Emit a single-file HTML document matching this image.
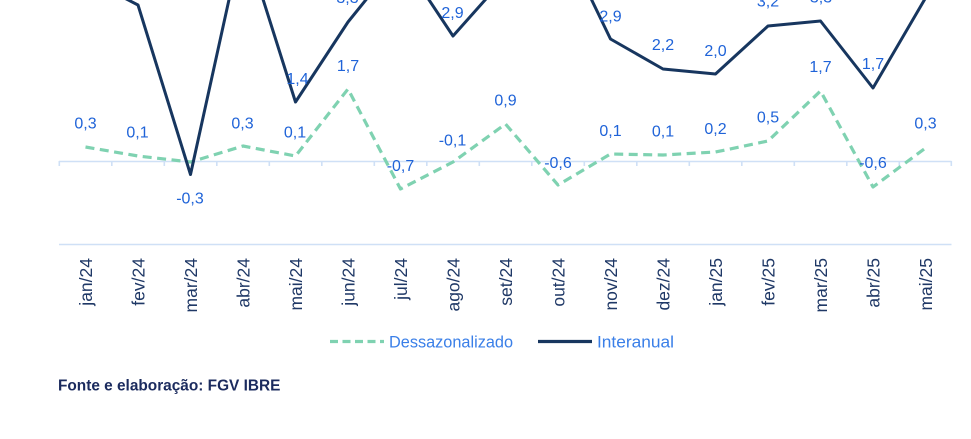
<!DOCTYPE html>
<html>
<head>
<meta charset="utf-8">
<style>
  html,body{margin:0;padding:0;background:#ffffff;}
  body{width:971px;height:439px;overflow:hidden;}
  svg{display:block;}
  text{font-family:"Liberation Sans",sans-serif;}
</style>
</head>
<body>
<svg width="971" height="439" viewBox="0 0 971 439" xmlns="http://www.w3.org/2000/svg">
  <rect x="0" y="0" width="971" height="439" fill="#ffffff"/>

  <!-- axis lines -->
  <g stroke="#cfe0f6" stroke-width="1.6" fill="none">
    <line x1="59" y1="161.5" x2="951.5" y2="161.5"/>
    <line x1="59" y1="244.5" x2="951.5" y2="244.5"/>
    <line x1="59.3" y1="161" x2="59.3" y2="166"/>
    <line x1="111.8" y1="161" x2="111.8" y2="166"/>
    <line x1="164.3" y1="161" x2="164.3" y2="166"/>
    <line x1="216.8" y1="161" x2="216.8" y2="166"/>
    <line x1="269.3" y1="161" x2="269.3" y2="166"/>
    <line x1="321.8" y1="161" x2="321.8" y2="166"/>
    <line x1="374.3" y1="161" x2="374.3" y2="166"/>
    <line x1="426.8" y1="161" x2="426.8" y2="166"/>
    <line x1="479.3" y1="161" x2="479.3" y2="166"/>
    <line x1="531.8" y1="161" x2="531.8" y2="166"/>
    <line x1="584.3" y1="161" x2="584.3" y2="166"/>
    <line x1="636.8" y1="161" x2="636.8" y2="166"/>
    <line x1="689.3" y1="161" x2="689.3" y2="166"/>
    <line x1="741.8" y1="161" x2="741.8" y2="166"/>
    <line x1="794.3" y1="161" x2="794.3" y2="166"/>
    <line x1="846.8" y1="161" x2="846.8" y2="166"/>
    <line x1="899.3" y1="161" x2="899.3" y2="166"/>
    <line x1="951.3" y1="161" x2="951.3" y2="166"/>
  </g>

  <!-- Dessazonalizado (green dashed) -->
  <polyline fill="none" stroke="#7fd2b1" stroke-width="3.2" stroke-dasharray="9 5.5" stroke-linejoin="round"
    points="85.5,147 138,156 190.5,162 243,146 295.5,156 348,89 400.5,189 453,162 505.5,124 558,185 610.5,154 663,155 715.5,152 768,141 820.5,91 873,187 925.5,148"/>

  <!-- Interanual (navy solid) -->
  <polyline fill="none" stroke="#17365f" stroke-width="3" stroke-linejoin="round"
    points="85.5,-22 138,5 190.5,174.5 243,-64 295.5,102 348,22 400.5,-43 453,36 505.5,-23 558,-70 610.5,39 663,69 715.5,74 768,26 820.5,21 873,88 925.5,-2"/>

  <!-- data labels -->
  <g fill="#1f63d8" font-size="16" text-anchor="middle">
    <!-- Dessazonalizado -->
    <text x="85.5" y="128.7">0,3</text>
    <text x="137.5" y="137.5">0,1</text>
    <text x="190" y="203.5">-0,3</text>
    <text x="242.5" y="128.7">0,3</text>
    <text x="295" y="137.5">0,1</text>
    <text x="348" y="71">1,7</text>
    <text x="400.5" y="171">-0,7</text>
    <text x="452.5" y="145.5">-0,1</text>
    <text x="505.5" y="105.5">0,9</text>
    <text x="558" y="168">-0,6</text>
    <text x="610.5" y="136">0,1</text>
    <text x="663" y="136.5">0,1</text>
    <text x="715.5" y="134">0,2</text>
    <text x="768" y="122.5">0,5</text>
    <text x="820.5" y="72">1,7</text>
    <text x="873" y="168">-0,6</text>
    <text x="925.5" y="128.5">0,3</text>
    <!-- Interanual -->
    <text x="297.5" y="84">1,4</text>
    <text x="347.5" y="3">3,3</text>
    <text x="452.5" y="18">2,9</text>
    <text x="610.5" y="21.7">2,9</text>
    <text x="663" y="50">2,2</text>
    <text x="715.5" y="56">2,0</text>
    <text x="768" y="6.5">3,2</text>
    <text x="821" y="2.5">3,3</text>
    <text x="873" y="69">1,7</text>
  </g>

  <!-- x axis labels (rotated) -->
  <g fill="#1f3866" font-size="17.5" text-anchor="end">
    <text transform="translate(92,258) rotate(-90)">jan/24</text>
    <text transform="translate(144.5,258) rotate(-90)">fev/24</text>
    <text transform="translate(197,258) rotate(-90)">mar/24</text>
    <text transform="translate(249.5,258) rotate(-90)">abr/24</text>
    <text transform="translate(302,258) rotate(-90)">mai/24</text>
    <text transform="translate(354.5,258) rotate(-90)">jun/24</text>
    <text transform="translate(407,258) rotate(-90)">jul/24</text>
    <text transform="translate(459.5,258) rotate(-90)">ago/24</text>
    <text transform="translate(512,258) rotate(-90)">set/24</text>
    <text transform="translate(564.5,258) rotate(-90)">out/24</text>
    <text transform="translate(617,258) rotate(-90)">nov/24</text>
    <text transform="translate(669.5,258) rotate(-90)">dez/24</text>
    <text transform="translate(722,258) rotate(-90)">jan/25</text>
    <text transform="translate(774.5,258) rotate(-90)">fev/25</text>
    <text transform="translate(827,258) rotate(-90)">mar/25</text>
    <text transform="translate(879.5,258) rotate(-90)">abr/25</text>
    <text transform="translate(932,258) rotate(-90)">mai/25</text>
  </g>

  <!-- legend -->
  <line x1="330" y1="341.5" x2="384" y2="341.5" stroke="#7fd2b1" stroke-width="3.2" stroke-dasharray="8 4.5"/>
  <text x="389" y="347.5" font-size="16.3" fill="#3a7fe8">Dessazonalizado</text>
  <line x1="538" y1="341.5" x2="592" y2="341.5" stroke="#17365f" stroke-width="3.2"/>
  <text x="597" y="347.5" font-size="16.3" fill="#3a7fe8" textLength="77" lengthAdjust="spacingAndGlyphs">Interanual</text>

  <!-- footer -->
  <text x="58" y="390.5" font-size="15.4" font-weight="bold" fill="#1b2b5e">Fonte e elaboração: FGV IBRE</text>
</svg>
</body>
</html>
